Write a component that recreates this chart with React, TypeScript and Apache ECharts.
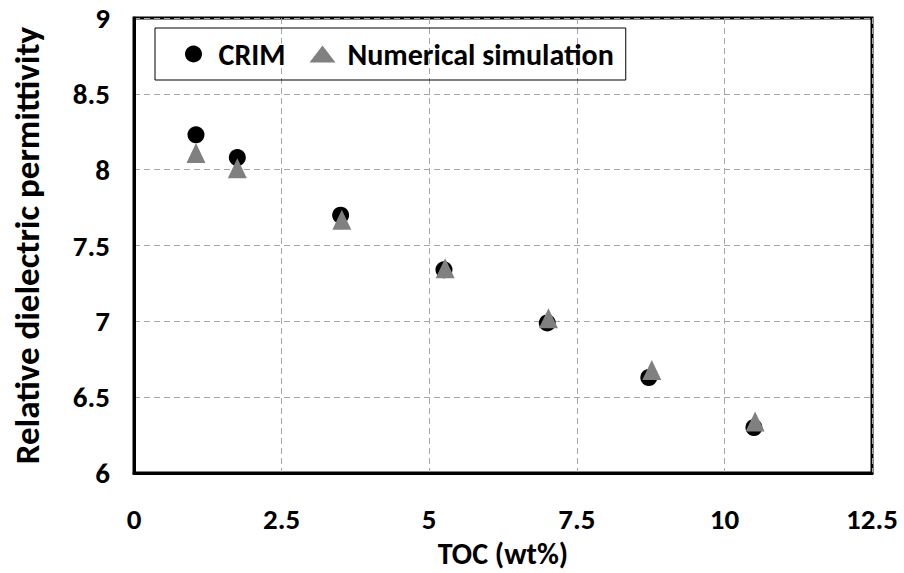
import React, { useEffect, useRef } from "react";
import * as echarts from "echarts";

// TOC content (wt%) of the samples
const tocCrim = [1.05, 1.75, 3.5, 5.25, 7.0, 8.72, 10.5];
const crimValues = [8.23, 8.08, 7.7, 7.34, 6.99, 6.63, 6.3];

const tocSim = [1.05, 1.75, 3.52, 5.27, 7.02, 8.77, 10.52];
const simValues = [8.11, 8.01, 7.67, 7.35, 7.02, 6.68, 6.34];

const xTicks = [0, 2.5, 5, 7.5, 10, 12.5];
const yTicks = [6, 6.5, 7, 7.5, 8, 8.5, 9];

const FONT = "Carlito, Lato, 'Open Sans', sans-serif";

export default function App() {
  const ref = useRef<HTMLDivElement>(null);

  useEffect(() => {
    if (!ref.current) return;
    const chart = echarts.init(ref.current, null, { renderer: "svg", width: 904, height: 573 });
    const pair = (xs: number[], ys: number[]) => xs.map((x, i) => [x, ys[i]]);
    chart.setOption({
      animation: false,
      backgroundColor: "#fff",
      grid: {
        left: 134,
        top: 18,
        right: 32,
        bottom: 94,
        show: true,
        borderColor: "#000",
        borderWidth: 3,
      },
      legend: {
        left: 155,
        top: 28,
        orient: "horizontal",
        borderColor: "#000",
        borderWidth: 1,
        padding: [11, 12, 11, 30],
        itemWidth: 26,
        itemHeight: 17,
        itemGap: 24,
        textStyle: {
          fontFamily: FONT,
          fontWeight: "bold",
          fontSize: 30,
          color: "#000",
          padding: [0, 0, 0, 7],
        },
        data: [
          { name: "CRIM", icon: "circle" },
          { name: "Numerical simulation", icon: "triangle" },
        ],
      },
      xAxis: {
        type: "value",
        min: xTicks[0],
        max: xTicks[xTicks.length - 1],
        interval: 2.5,
        name: "TOC (wt%)",
        nameLocation: "middle",
        nameGap: 57,
        nameTextStyle: { fontFamily: FONT, fontWeight: "bold", fontSize: 30, color: "#000" },
        axisLine: { show: true, lineStyle: { color: "#000", width: 3 } },
        axisTick: { show: false },
        axisLabel: {
          margin: 31,
          fontFamily: FONT,
          fontWeight: "bold",
          fontSize: 29,
          color: "#000",
          formatter: (v: number) => String(v),
        },
        splitLine: { show: true, lineStyle: { color: "#a6a6a6", type: [6, 4], width: 1 } },
      },
      yAxis: {
        type: "value",
        min: yTicks[0],
        max: yTicks[yTicks.length - 1],
        interval: 0.5,
        name: "Relative dielectric permittivity",
        nameLocation: "middle",
        nameGap: 90,
        nameTextStyle: { fontFamily: FONT, fontWeight: "bold", fontSize: 35, color: "#000" },
        axisLine: { show: true, lineStyle: { color: "#000", width: 3 } },
        axisTick: { show: false },
        axisLabel: {
          margin: 24,
          fontFamily: FONT,
          fontWeight: "bold",
          fontSize: 29,
          color: "#000",
          formatter: (v: number) => String(v),
        },
        splitLine: { show: true, lineStyle: { color: "#a6a6a6", type: [6, 4], width: 1 } },
      },
      series: [
        {
          name: "CRIM",
          type: "scatter",
          symbol: "circle",
          symbolSize: 17,
          itemStyle: { color: "#000", opacity: 1 },
          data: pair(tocCrim, crimValues),
        },
        {
          name: "Numerical simulation",
          type: "scatter",
          symbol: "triangle",
          symbolSize: [19, 20],
          itemStyle: { color: "#808080", opacity: 1 },
          data: pair(tocSim, simValues),
        },
      ],
    });
    return () => chart.dispose();
  }, []);

  return (
    <div
      ref={ref}
      style={{ position: "fixed", left: 0, top: 0, width: 904, height: 573, background: "#fff" }}
    />
  );
}
